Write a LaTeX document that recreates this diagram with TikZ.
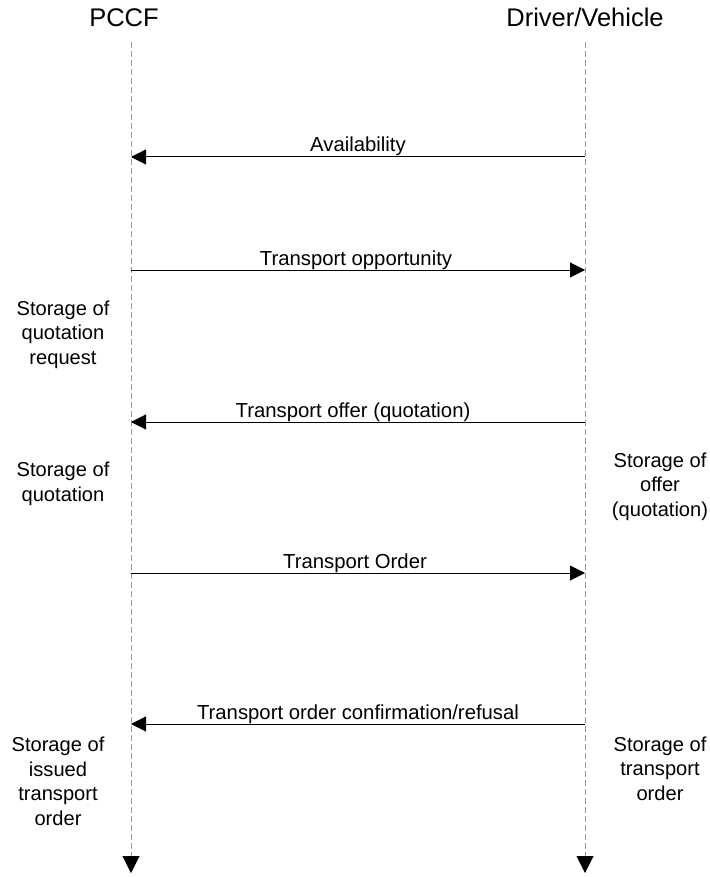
\documentclass[tikz,border=0pt]{standalone}
\usepackage{fontspec}
\setmainfont{Liberation Sans}
\usetikzlibrary{arrows.meta}
\tikzset{
  lifeline/.style={draw=gray!80, dash pattern=on 6pt off 3pt, line width=1pt, -{Triangle[width=17pt,length=17pt,fill=black,color=black]}},
  msg/.style={draw=black, line width=1pt, -{Triangle[width=15pt,length=15pt]}},
  msglabel/.style={font=\fontsize{20.3}{24.5}\selectfont, inner sep=0pt, anchor=base},
  note/.style={font=\fontsize{20.1}{24.5}\selectfont, align=center, inner sep=0pt, anchor=base},
  header/.style={font=\fontsize{25.5}{30}\selectfont, inner sep=0pt, anchor=base}
}
\begin{document}
\begin{tikzpicture}[x=1pt,y=-1pt]
\useasboundingbox (0,0) rectangle (709,877);
% headers
\node[header] (hp) at (124,26.5) {PCCF};
\node[header] (hd) at (585,26.5) {Driver/Vehicle};
% lifelines
\coordinate (ptop) at (131,42);
\coordinate (pbot) at (131,873);
\coordinate (dtop) at (585,42);
\coordinate (dbot) at (585,873);
\draw[lifeline] (ptop) -- (pbot);
\draw[lifeline] (dtop) -- (dbot);
% message anchor points
\coordinate (p1) at (131,157); \coordinate (d1) at (585,157);
\coordinate (p2) at (131,270); \coordinate (d2) at (585,270);
\coordinate (p3) at (131,422); \coordinate (d3) at (585,422);
\coordinate (p4) at (131,573); \coordinate (d4) at (585,573);
\coordinate (p5) at (131,724); \coordinate (d5) at (585,724);
% messages
\draw[msg] (d1) -- (p1);
\node[msglabel] (l1) at (358,152) {Availability};
\draw[msg] (p2) -- (d2);
\node[msglabel] (l2) at (356,265) {Transport opportunity};
\draw[msg] (d3) -- (p3);
\node[msglabel] (l3) at (353,417) {Transport offer (quotation)};
\draw[msg] (p4) -- (d4);
\node[msglabel] (l4) at (355,568) {Transport Order};
\draw[msg] (d5) -- (p5);
\node[msglabel] (l5) at (358,719) {Transport order confirmation/refusal};
% notes
\node[note] (n1) at (63,364) {Storage of\\quotation\\request};
\node[note] (n2) at (63,501) {Storage of\\quotation};
\node[note] (n3) at (660,516) {Storage of\\offer\\(quotation)};
\node[note] (n4) at (58,825) {Storage of\\issued\\transport\\order};
\node[note] (n5) at (660,800) {Storage of\\transport\\order};
\end{tikzpicture}
\end{document}
